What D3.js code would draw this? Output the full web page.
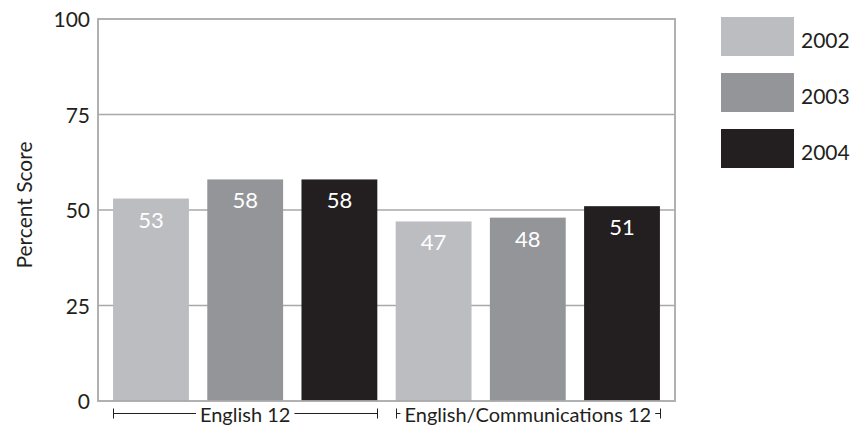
<!DOCTYPE html>
<html>
<head>
<meta charset="utf-8">
<script src="https://cdn.jsdelivr.net/npm/d3@7"></script>
<style>
  html, body { margin: 0; padding: 0; background: #fff; }
  svg { display: block; font-family: "Lato", "Open Sans", sans-serif; }
</style>
</head>
<body>
<svg id="chart" width="857" height="434"></svg>
<script>
// Course groups and the years shown for each
const courses = ["English 12", "English/Communications 12"];
const years = ["2002", "2003", "2004"];
// Percent scores, one array per year (same order as courses)
const score2002 = [53, 47];
const score2003 = [58, 48];
const score2004 = [58, 51];
const yTicks = [0, 25, 50, 75, 100];
const yTitle = "Percent Score";

const yearColors = ["#bcbdc1", "#939598", "#231f20"];
const seriesByYear = [score2002, score2003, score2004];

// Flatten into one bar per (course, year)
const bars = [];
courses.forEach((c, ci) => {
  years.forEach((y, yi) => {
    bars.push({ course: c, year: y, key: c + "|" + y, value: seriesByYear[yi][ci], color: yearColors[yi] });
  });
});

const svg = d3.select("#chart");
const plot = { left: 98, right: 675, top: 19, bottom: 401 };

const x = d3.scaleBand()
  .domain(bars.map(d => d.key))
  .range([plot.left, plot.right])
  .paddingInner(0.195)
  .paddingOuter(0.16);

const yScale = d3.scaleLinear().domain([0, 100]).range([plot.bottom, plot.top]);

const gridColor = "#a9a9a9";

// Horizontal grid lines
svg.append("g")
  .selectAll("line")
  .data(yTicks.filter(t => t > 0 && t < 100))
  .join("line")
  .attr("x1", plot.left).attr("x2", plot.right)
  .attr("y1", d => yScale(d)).attr("y2", d => yScale(d))
  .attr("stroke", gridColor).attr("stroke-width", 1.5);

// Bars
svg.append("g")
  .selectAll("rect")
  .data(bars)
  .join("rect")
  .attr("x", d => x(d.key))
  .attr("width", x.bandwidth())
  .attr("y", d => yScale(d.value))
  .attr("height", d => yScale(0) - yScale(d.value))
  .attr("fill", d => d.color);

// Value labels inside the top of each bar
svg.append("g")
  .selectAll("text")
  .data(bars)
  .join("text")
  .attr("x", d => x(d.key) + x.bandwidth() / 2)
  .attr("y", d => yScale(d.value) + 29)
  .attr("text-anchor", "middle")
  .attr("fill", "#fff")
  .attr("font-size", 22)
  .text(d => d.value);

// Frame around the plot area
svg.append("rect")
  .attr("x", plot.left).attr("y", plot.top)
  .attr("width", plot.right - plot.left).attr("height", plot.bottom - plot.top)
  .attr("fill", "none").attr("stroke", gridColor).attr("stroke-width", 1.8);

// Y axis tick labels
const yAxis = d3.axisLeft(yScale).tickValues(yTicks).tickSize(0).tickPadding(8);
const yg = svg.append("g").attr("transform", `translate(${plot.left},0)`).call(yAxis);
yg.select(".domain").remove();
yg.selectAll("text")
  .attr("font-size", 21)
  .attr("font-family", "Lato, 'Open Sans', sans-serif")
  .attr("fill", "#231f20")
  .attr("dy", "0.36em");

// Y axis title
svg.append("text")
  .attr("transform", `translate(32,205) rotate(-90)`)
  .attr("text-anchor", "middle")
  .attr("font-size", 21)
  .attr("fill", "#231f20")
  .text(yTitle);

// Group brackets beneath the axis
const bracketY = 413.5;
courses.forEach(c => {
  const keys = bars.filter(d => d.course === c).map(d => d.key);
  const x0 = x(keys[0]);
  const x1 = x(keys[keys.length - 1]) + x.bandwidth();
  const cx = (x0 + x1) / 2;
  const g = svg.append("g");
  const label = g.append("text")
    .attr("x", cx).attr("y", bracketY + 8)
    .attr("text-anchor", "middle")
    .attr("font-size", 20)
    .attr("fill", "#231f20")
    .text(c);
  const bb = label.node().getBBox();
  const left = Math.round(Math.min(x0, bb.x - 8)) + 0.5;
  const right = Math.round(Math.max(x1, bb.x + bb.width + 8)) + 0.5;
  const line = (a, b, c2, d2) => g.append("line")
    .attr("x1", a).attr("y1", b).attr("x2", c2).attr("y2", d2)
    .attr("stroke", "#231f20").attr("stroke-width", 1);
  line(left, bracketY, bb.x - 4, bracketY);
  line(bb.x + bb.width + 4, bracketY, right, bracketY);
  line(left, bracketY - 5, left, bracketY + 5);
  line(right, bracketY - 5, right, bracketY + 5);
});

// Legend
const legend = svg.append("g")
  .selectAll("g")
  .data(years)
  .join("g")
  .attr("transform", (d, i) => `translate(721,${17 + i * 56})`);
legend.append("rect")
  .attr("width", 73).attr("height", 39)
  .attr("fill", (d, i) => yearColors[i]);
legend.append("text")
  .attr("x", 80).attr("y", 31)
  .attr("font-size", 21)
  .attr("fill", "#231f20")
  .text(d => d);
</script>
</body>
</html>
